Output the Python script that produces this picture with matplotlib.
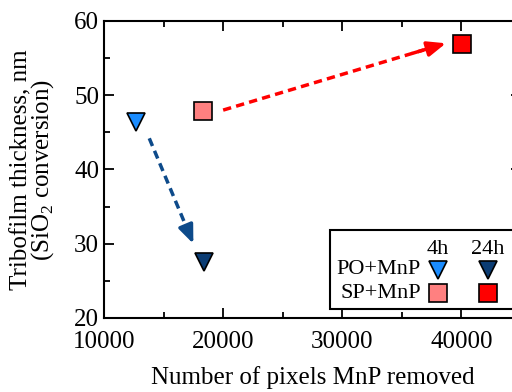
import matplotlib
matplotlib.use("Agg")
import matplotlib.pyplot as plt
from matplotlib.patches import Rectangle
from matplotlib.ticker import MultipleLocator

plt.rcParams['font.family'] = ['Liberation Serif', 'DejaVu Serif']
plt.rcParams['mathtext.fontset'] = 'custom'
plt.rcParams['mathtext.rm'] = 'Liberation Serif'

# data
series = ["PO+MnP", "SP+MnP"]
times = ["4h", "24h"]
po_x = [12700, 18400]
po_y = [46.4, 27.6]
sp_x = [18300, 40050]
sp_y = [47.9, 56.9]
po_colors = ["#1a8cff", "#0b3c73"]
sp_colors = ["#ff8080", "#ff0000"]
# arrows (start, end) in data coords
blue_arrow = [(13800, 44.2), (17500, 30.0)]
red_arrow = [(20000, 48.0), (38700, 57.0)]

fig = plt.figure(figsize=(5.12, 3.92), dpi=100)
ax = fig.add_axes([104/512, 1-318/392, 417/512, (318-21)/392])
ax.set_xlim(10000, 45000)
ax.set_ylim(20, 60)

def dashed_arrow(p0, p1, color):
    x0, y0 = p0
    x1, y1 = p1
    f = 0.9
    xm, ym = x0 + f*(x1-x0), y0 + f*(y1-y0)
    ax.plot([x0, xm], [y0, ym], ls=(0, (2.4, 1.5)), lw=2.5, color=color, zorder=2)
    ax.annotate("", xy=(x1, y1), xytext=(xm - 0.05*(x1-x0), ym - 0.05*(y1-y0)),
                arrowprops=dict(arrowstyle="-|>,head_length=1.1,head_width=0.45",
                                color=color, lw=2.5, shrinkA=0, shrinkB=0), zorder=2)

dashed_arrow(*blue_arrow, "#0d4a8a")
dashed_arrow(*red_arrow, "#ff0000")

for i in range(2):
    ax.plot(po_x[i], po_y[i], marker='v', ms=13, mfc=po_colors[i], mec='black', mew=1.2, ls='none', zorder=3)
    ax.plot(sp_x[i], sp_y[i], marker='s', ms=12.5, mfc=sp_colors[i], mec='black', mew=1.2, ls='none', zorder=3)

ax.xaxis.set_major_locator(MultipleLocator(10000))
ax.xaxis.set_minor_locator(MultipleLocator(5000))
ax.yaxis.set_major_locator(MultipleLocator(10))
ax.yaxis.set_minor_locator(MultipleLocator(5))
ax.tick_params(which='both', direction='in', top=True, right=True, labelsize=18, width=1.3)
ax.tick_params(which='major', length=7)
ax.tick_params(which='minor', length=4)
ax.tick_params(axis='x', pad=9)
for s in ax.spines.values():
    s.set_linewidth(1.5)

ax.set_xlabel("Number of pixels MnP removed", fontsize=18, labelpad=10)
fig.text(33/512, 1-170/392, "Tribofilm thickness, nm\n(SiO$_2$ conversion)", rotation=90,
         ha='center', va='center', multialignment='center', fontsize=18, linespacing=0.85)

# custom legend box (in figure pixel coords)
def fx(px):
    return px/512
def fy(py):
    return 1-py/392
rect = Rectangle((fx(330), fy(309)), fx(540)-fx(330), fy(230)-fy(309), transform=fig.transFigure,
                 facecolor='white', edgecolor='black', lw=1.5, zorder=5)
fig.patches.append(rect)
fs = 16
fig.text(fx(438), fy(249), times[0], ha='center', va='center', fontsize=fs, zorder=6)
fig.text(fx(488), fy(249), times[1], ha='center', va='center', fontsize=fs, zorder=6)
fig.text(fx(421), fy(270), series[0], ha='right', va='center', fontsize=fs, zorder=6)
fig.text(fx(421), fy(293), series[1], ha='right', va='center', fontsize=fs, zorder=6)
lax = fig.add_axes([0, 0, 1, 1], facecolor='none')
lax.set_xlim(0, 512); lax.set_ylim(392, 0); lax.axis('off')
lax.set_zorder(10)
lax.plot(438, 270, marker='v', ms=13, mfc=po_colors[0], mec='black', mew=1.2)
lax.plot(488, 270, marker='v', ms=13, mfc=po_colors[1], mec='black', mew=1.2)
lax.plot(438, 293, marker='s', ms=12.5, mfc=sp_colors[0], mec='black', mew=1.2)
lax.plot(488, 293, marker='s', ms=12.5, mfc=sp_colors[1], mec='black', mew=1.2)

fig.savefig("out.png", dpi=100)
